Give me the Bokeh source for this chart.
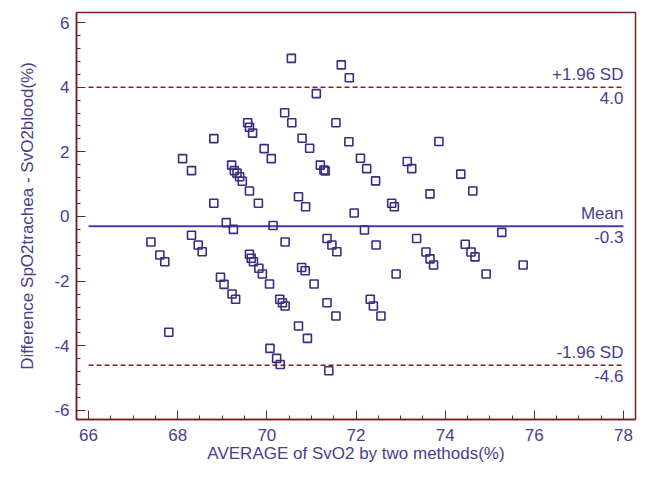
from bokeh.plotting import figure
from bokeh.models import Range1d, SingleIntervalTicker, ColumnDataSource, PrintfTickFormatter
from bokeh.embed import file_html
from bokeh.resources import INLINE
from bokeh.core.properties import value

# ---- data ----
avg_x = [69.57, 69.61, 69.68, 68.81, 69.94, 70.10, 68.11, 68.31, 69.21, 69.27,
         69.33, 69.39, 69.45, 69.61, 68.81, 69.81, 69.09, 70.14, 69.25,
         67.40, 68.31, 68.46, 68.55, 67.60, 67.71, 69.61, 69.65, 69.70, 69.82,
         69.90, 70.06, 70.29, 68.96, 69.04, 69.22, 69.30, 67.80, 70.07, 70.22,
         70.30,
         70.55, 71.67, 71.85, 71.11, 70.40, 70.56, 71.55, 70.79, 70.96, 71.84,
         72.10, 72.24, 72.44, 71.20, 71.28, 71.31, 73.15, 73.25, 73.86, 74.35,
         73.66, 72.80, 72.86, 70.71, 70.87, 71.96, 74.62,
         70.41, 71.35, 71.46, 71.57, 72.19, 72.45, 73.36, 73.57, 73.66, 73.74,
         72.90, 70.78, 70.86, 71.06, 70.35, 70.41, 71.35, 71.55, 72.32, 72.39,
         72.56, 70.71, 70.91, 71.39,
         75.27, 74.45, 74.58, 74.67, 74.92, 75.75]
diff_y = [2.90, 2.76, 2.58, 2.41, 2.10, 1.79, 1.79, 1.42, 1.59, 1.42,
          1.34, 1.23, 1.09, 0.79, 0.41, 0.41, -0.19, -0.28, -0.40,
          -0.79, -0.58, -0.88, -1.09, -1.19, -1.40, -1.17, -1.29, -1.40, -1.60,
          -1.78, -2.09, -2.56, -1.88, -2.10, -2.40, -2.56, -3.58, -4.08, -4.39,
          -4.58,
          4.89, 4.69, 4.29, 3.80, 3.21, 2.90, 2.90, 2.42, 2.11, 2.31,
          1.80, 1.48, 1.10, 1.59, 1.44, 1.41, 1.70, 1.48, 2.32, 1.31,
          0.70, 0.41, 0.30, 0.61, 0.30, 0.11, 0.79,
          -0.79, -0.68, -0.88, -1.09, -0.42, -0.88, -0.68, -1.10, -1.31, -1.50,
          -1.78, -1.58, -1.68, -2.09, -2.67, -2.77, -2.67, -3.08, -2.56, -2.77,
          -3.08, -3.39, -3.77, -4.77,
          -0.49, -0.86, -1.10, -1.25, -1.78, -1.50]

mean_diff = -0.3
upper_loa = 4.0
lower_loa = -4.6
line_span = [66, 78]

x_title = "AVERAGE of SvO2 by two methods(%)"
y_title = "Difference SpO2trachea - SvO2blood(%)"

# ---- styling ----
TXT = "#4a3d8c"
PT = "#3a2c82"
MEANC = "#4b3aa6"
RED = "#8b1a1a"
FRAME = "#7a1f1f"
FONT = "Liberation Sans"

p = figure(width=637, height=465, output_backend="svg", toolbar_location=None,
           x_range=Range1d(65.73, 78.27), y_range=Range1d(-6.28, 6.31),
           min_border_left=76, min_border_right=2, min_border_top=12,
           min_border_bottom=46)
p.background_fill_color = "white"
p.border_fill_color = "white"
p.outline_line_color = FRAME
p.outline_line_width = 1.5
p.xgrid.visible = False
p.ygrid.visible = False

p.xaxis.ticker = SingleIntervalTicker(interval=2, num_minor_ticks=4)
p.yaxis.ticker = SingleIntervalTicker(interval=2, num_minor_ticks=5)
for ax in (p.xaxis, p.yaxis):
    ax.formatter = PrintfTickFormatter(format="%d")
    ax.axis_line_color = FRAME
    ax.axis_line_width = 1.5
    ax.major_tick_line_color = FRAME
    ax.minor_tick_line_color = FRAME
    ax.major_tick_in = 9
    ax.major_tick_out = 0
    ax.minor_tick_in = 4
    ax.minor_tick_out = 0
    ax.major_label_text_color = TXT
    ax.major_label_text_font = FONT
    ax.major_label_text_font_size = "17px"
    ax.axis_label_text_color = TXT
    ax.axis_label_text_font = FONT
    ax.axis_label_text_font_size = "17px"
    ax.axis_label_text_font_style = "normal"
p.xaxis.axis_label = x_title
p.yaxis.axis_label = y_title
p.xaxis.major_label_standoff = 9
p.yaxis.major_label_standoff = 7
p.xaxis.axis_label_standoff = 0
p.yaxis.axis_label_standoff = 14

# limit lines
p.line(line_span, [upper_loa, upper_loa], line_color=RED, line_width=1.5, line_dash="5 3")
p.line(line_span, [lower_loa, lower_loa], line_color=RED, line_width=1.5, line_dash="5 3")
p.line(line_span, [mean_diff, mean_diff], line_color=MEANC, line_width=2)

src = ColumnDataSource(dict(x=avg_x, y=diff_y))
p.scatter("x", "y", source=src, marker="square", size=8, fill_color=None,
          line_color=PT, line_width=1.6)

labels_above = ["+1.96 SD", "Mean", "-1.96 SD"]
labels_below = ["%.1f" % upper_loa, "%.1f" % mean_diff, "%.1f" % lower_loa]
levels = [upper_loa, mean_diff, lower_loa]
xs = [line_span[1]] * 3
p.text(xs, levels, text=labels_above, text_align="right", text_baseline="bottom",
       y_offset=-3, text_color=TXT, text_font=value(FONT), text_font_size="17px")
p.text(xs, levels, text=labels_below, text_align="right", text_baseline="top",
       y_offset=5, text_color=TXT, text_font=value(FONT), text_font_size="17px")

open("out.html", "w").write(file_html(p, INLINE))
